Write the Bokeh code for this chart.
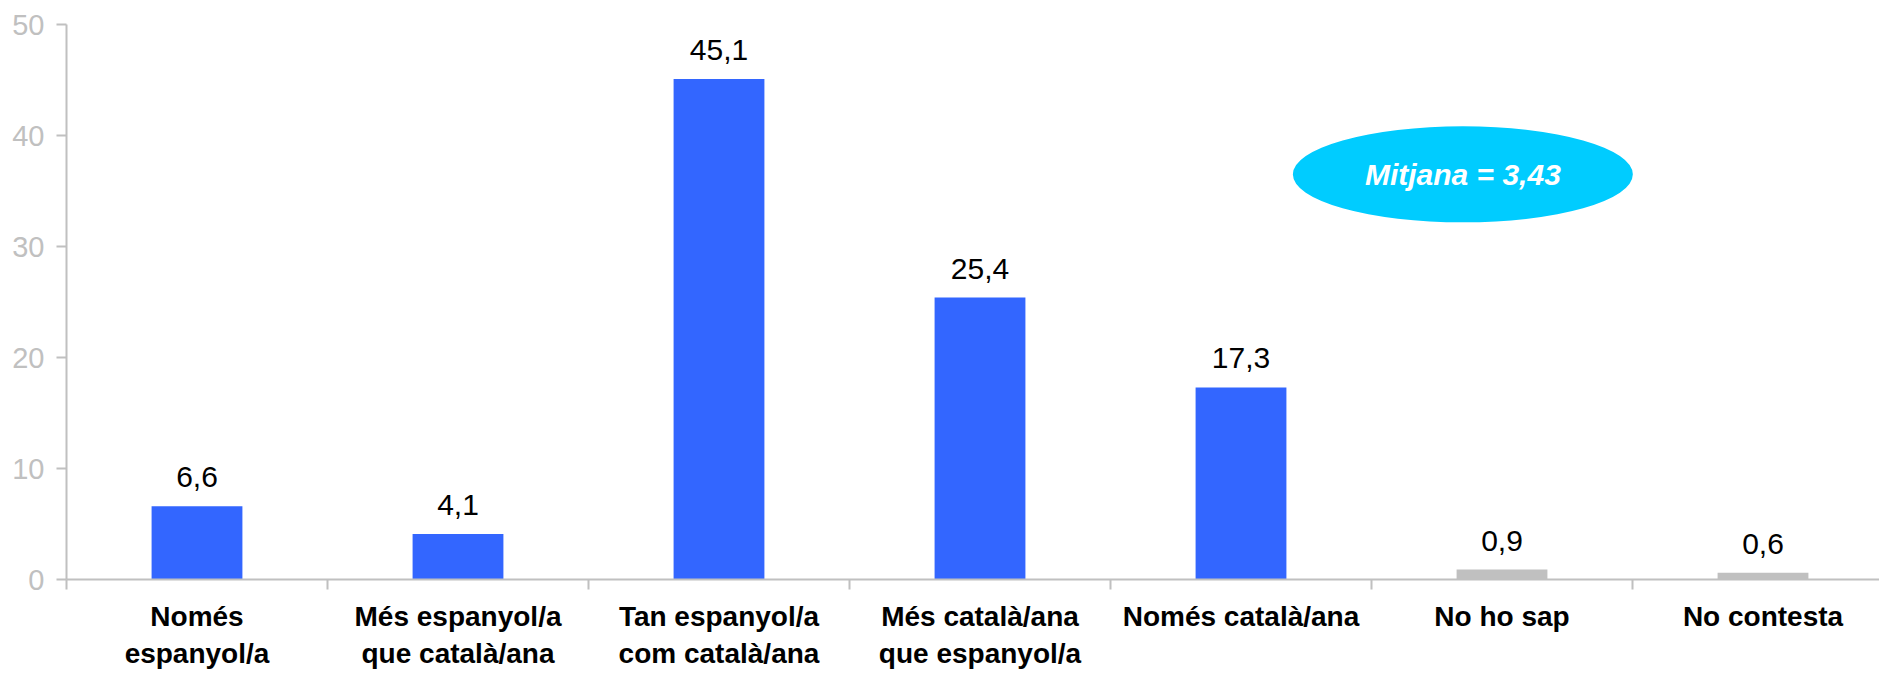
from bokeh.plotting import figure
from bokeh.models import ColumnDataSource, FixedTicker, Range1d
from bokeh.core.properties import value
from bokeh.embed import file_html
from bokeh.resources import INLINE

# ---- data ----
categories = ["Només\nespanyol/a", "Més espanyol/a\nque català/ana", "Tan espanyol/a\ncom català/ana",
              "Més català/ana\nque espanyol/a", "Només català/ana", "No ho sap", "No contesta"]
values = [6.6, 4.1, 45.1, 25.4, 17.3, 0.9, 0.6]
bar_colors = ["#3366FF", "#3366FF", "#3366FF", "#3366FF", "#3366FF", "#C0C0C0", "#C0C0C0"]
y_ticks = [0, 10, 20, 30, 40, 50]
mean_text = "Mitjana = 3,43"
mean_pos = (5.35, 36.5)

FONT = "Liberation Sans"
AXIS_GRAY = "#C0C0C0"

n = len(categories)
centers = [i + 0.5 for i in range(n)]
labels = [f"{v:.1f}".replace(".", ",") for v in values]

src = ColumnDataSource(dict(x=centers, top=values, color=bar_colors, label=labels))

p = figure(width=1879, height=674, output_backend="svg", toolbar_location=None,
           x_range=Range1d(0, 1813 / 261.0), y_range=Range1d(0, 50),
           min_border_left=66, min_border_right=0, min_border_top=24, min_border_bottom=95)
p.outline_line_color = None
p.xgrid.grid_line_color = None
p.ygrid.grid_line_color = None
p.background_fill_color = "white"
p.border_fill_color = "white"

p.vbar(x="x", top="top", bottom=0, width=0.348, color="color", line_color=None, source=src)
p.text(x="x", y="top", text="label", source=src, text_align="center", text_baseline="alphabetic",
       y_offset=-29, text_font=value(FONT), text_font_size="30px", text_color="black")

# mean ellipse
p.ellipse(x=[mean_pos[0]], y=[mean_pos[1]], width=340, height=96, width_units="screen",
          height_units="screen", fill_color="#00CCFF", line_color=None)
p.text(x=[mean_pos[0]], y=[mean_pos[1]], text=[mean_text], text_align="center", text_baseline="middle",
       text_font=value(FONT), text_font_size="30px", text_font_style="bold italic", text_color="white")

# y axis
yax = p.yaxis[0]
yax.ticker = FixedTicker(ticks=y_ticks)
yax.axis_line_color = AXIS_GRAY
yax.axis_line_width = 2
yax.major_tick_line_color = AXIS_GRAY
yax.major_tick_line_width = 2
yax.major_tick_in = 0
yax.major_tick_out = 10
yax.minor_tick_line_color = None
yax.major_label_standoff = 12
yax.major_label_text_font = FONT
yax.major_label_text_font_size = "29px"
yax.major_label_text_color = AXIS_GRAY

# x axis
xax = p.xaxis[0]
xax.ticker = FixedTicker(ticks=centers, minor_ticks=list(range(n + 1)))
xax.major_label_overrides = {c: lab for c, lab in zip(centers, categories)}
xax.axis_line_color = AXIS_GRAY
xax.axis_line_width = 2
xax.major_tick_line_color = None
xax.major_tick_in = 0
xax.major_tick_out = 0
xax.minor_tick_line_color = AXIS_GRAY
xax.minor_tick_line_width = 2
xax.minor_tick_in = 0
xax.minor_tick_out = 10
xax.major_label_standoff = 11
xax.major_label_text_font = FONT
xax.major_label_text_font_size = "28px"
xax.major_label_text_font_style = "bold"
xax.major_label_text_color = "black"
xax.major_label_text_line_height = 1.22

open("out.html", "w").write(file_html(p, INLINE))
